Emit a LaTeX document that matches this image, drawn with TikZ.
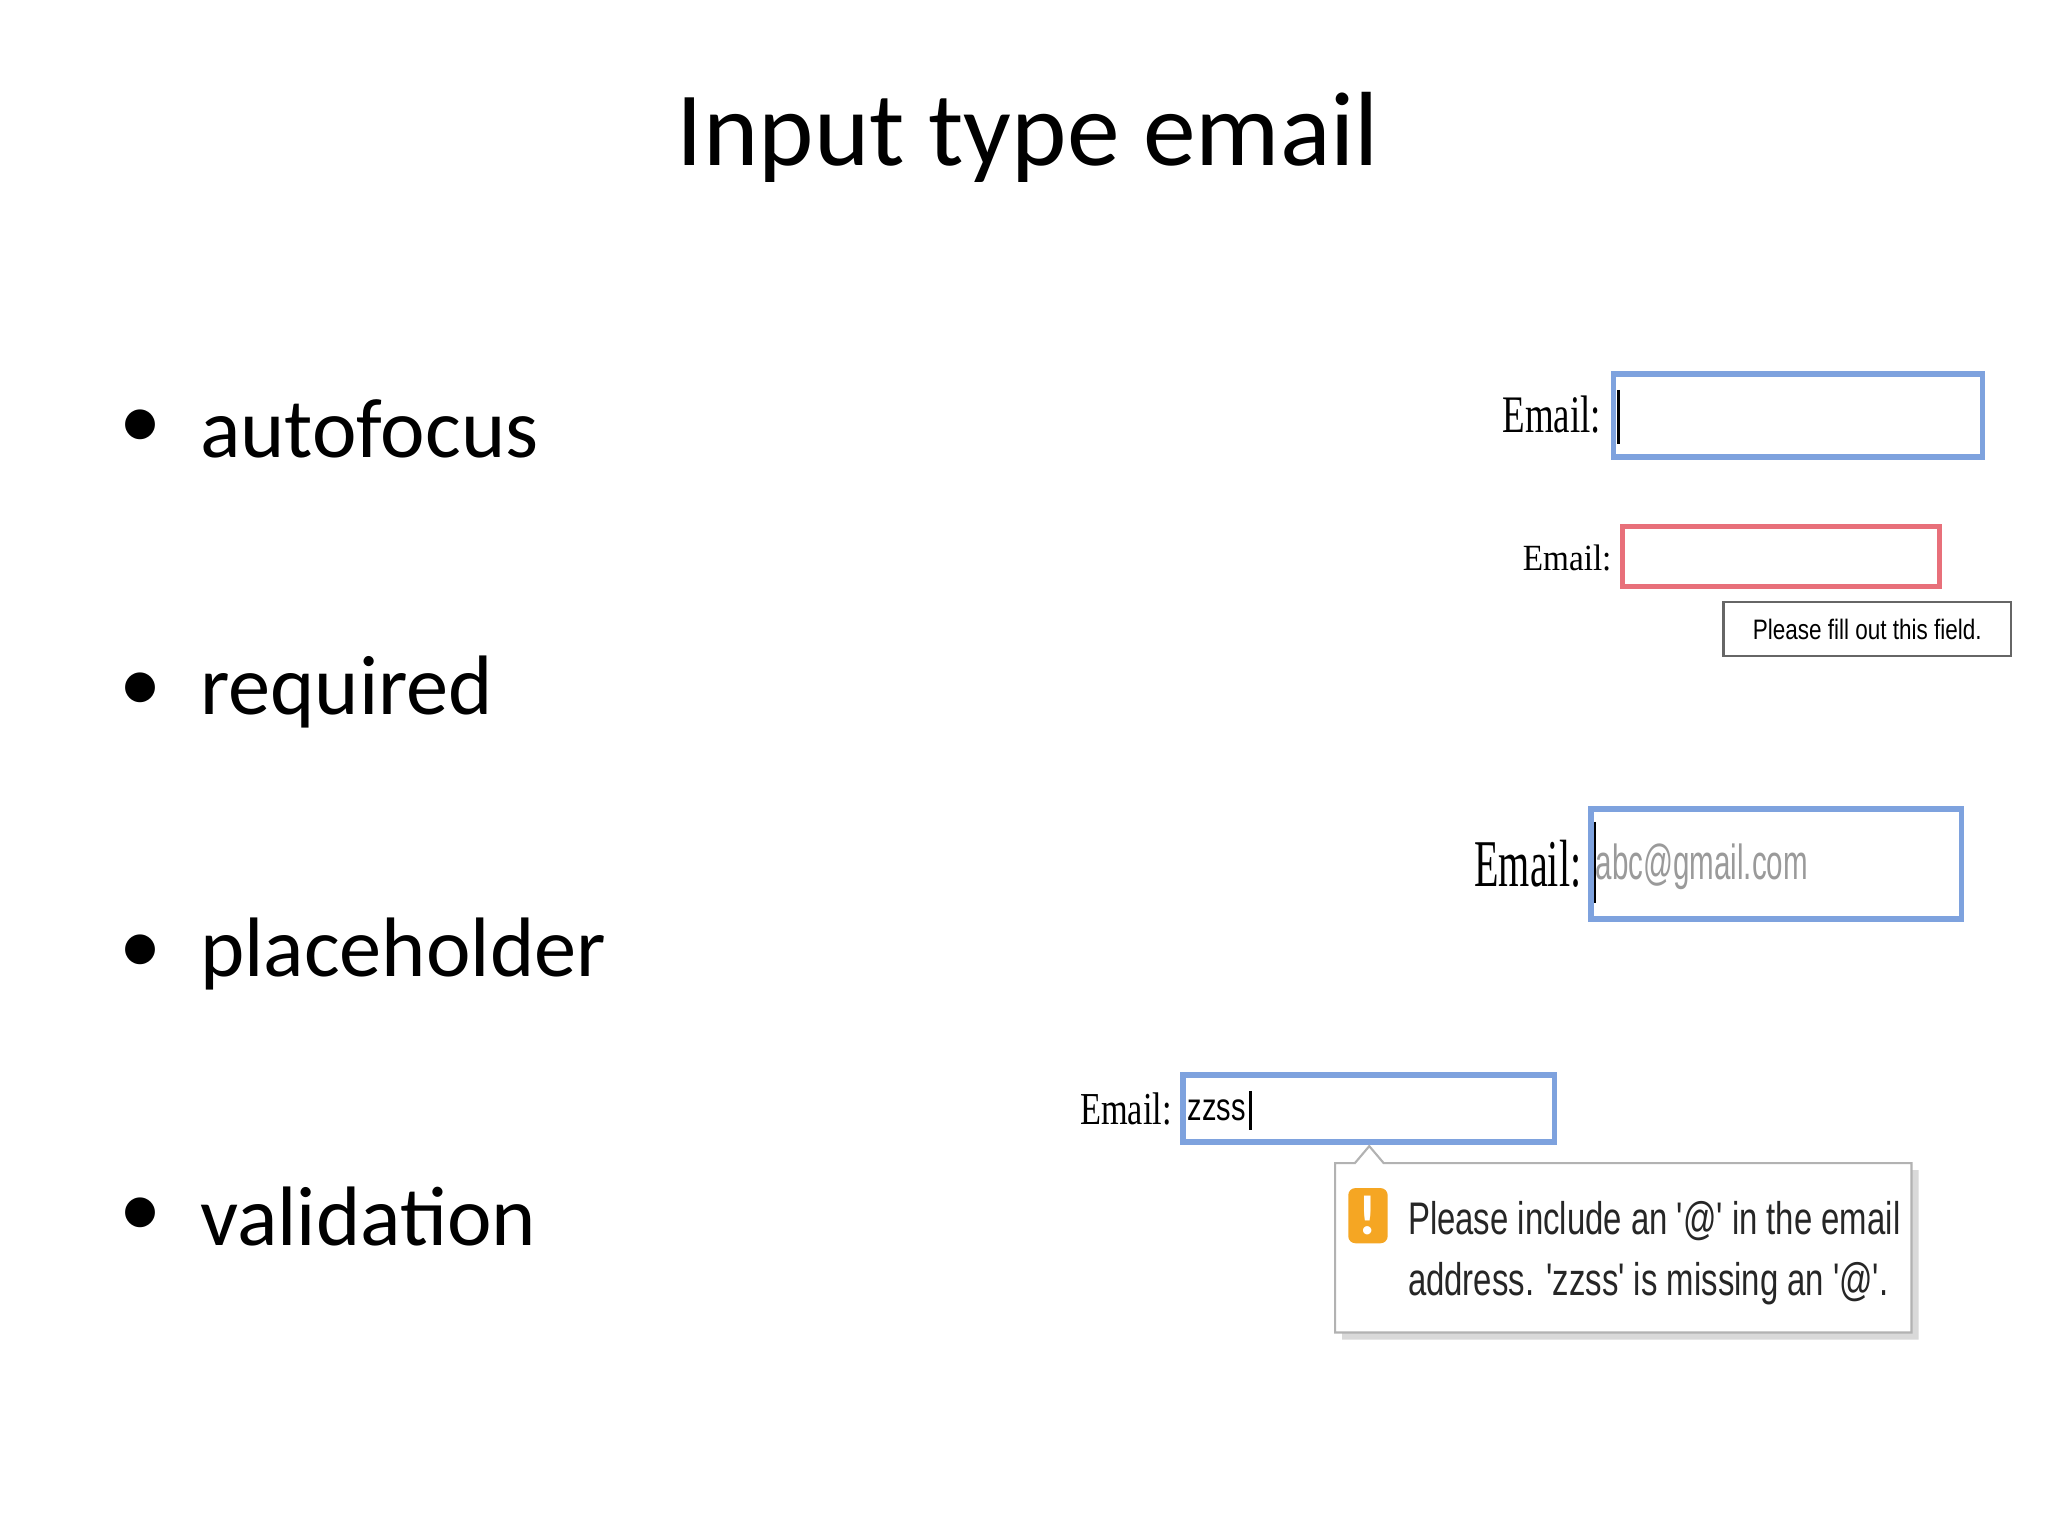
\documentclass[tikz,border=0pt]{standalone}
\usepackage{fontspec}
\setmainfont{Carlito}
\newfontfamily\tms{Liberation Serif}
\newfontfamily\ui{Liberation Sans}
\usetikzlibrary{shadows}
\definecolor{fb}{HTML}{7EA2DE}
\definecolor{fr}{HTML}{E8707A}
\definecolor{ph}{HTML}{9A9A9A}
\definecolor{warn}{HTML}{F5A623}
\begin{document}
\begin{tikzpicture}[x=0.01313cm,y=-0.01313cm,
  bul/.style={anchor=west,font=\fontsize{24}{28}\selectfont},
  lab/.style={anchor=east,inner sep=0pt},
  fbox/.style={draw=fb,line width=1.6pt},
  rbox/.style={draw=fr,line width=1.4pt}]
\useasboundingbox (0,0) rectangle (1560,1170);
\node (title) at (783,105) {\fontsize{30}{34}\selectfont Input type email};
\foreach \y/\t/\n in {327/autofocus/a,527/required/b,727/placeholder/c,927/validation/d}{
  \node (dot\n) at (107,\y) {\fontsize{24}{28}\selectfont •};
  \node[bul] (b\n) at (143,\y) {\t};
}
% autofocus
\draw[fbox] (1229,285) rectangle (1510,348);
\coordinate (c1a) at (1233,297); \coordinate (c1b) at (1233,338);
\draw[line width=0.8pt] (c1a) -- (c1b);
\node[lab] (l1) at (1220,316) {\tms\scalebox{0.7}[1]{\fontsize{15}{16}\selectfont Email:}};
% required
\draw[rbox] (1236,401) rectangle (1477,447);
\node[lab] (l2) at (1228,425) {\tms\scalebox{0.9}[1]{\fontsize{10.5}{12}\selectfont Email:}};
\node[draw=black!60,line width=0.6pt,anchor=north west,minimum width=219*0.01313cm,minimum height=41*0.01313cm,inner sep=0pt] (tip) at (1312,458) {\ui\scalebox{0.8}[1]{\fontsize{8}{9}\selectfont Please fill out this field.}};
% placeholder
\draw[fbox] (1212,616) rectangle (1494,700);
\coordinate (c3a) at (1215,626); \coordinate (c3b) at (1215,688);
\draw[line width=0.8pt] (c3a) -- (c3b);
\node[anchor=west,inner sep=0pt,text=ph] (ph) at (1215,660) {\ui\scalebox{0.6}[1]{\fontsize{14}{16}\selectfont abc@gmail.com}};
\node[lab] (l3) at (1205,658) {\tms\scalebox{0.6}[1]{\fontsize{19}{20}\selectfont Email:}};
% validation
\draw[fbox] (901,819) rectangle (1184,870);
\node[anchor=west,inner sep=0pt] (zz) at (904,846) {\ui\scalebox{0.75}[1]{\fontsize{11}{12}\selectfont zzss}};
\draw[line width=0.8pt] (zz.east)++(3,-15) -- ++(0,30);
\node[lab] (l4) at (893,845) {\tms\scalebox{0.75}[1]{\fontsize{13}{14}\selectfont Email:}};
\draw[draw=black!30,fill=white,line width=0.6pt,drop shadow={opacity=0.3,shadow xshift=2pt,shadow yshift=-2pt}]
  (1017,886) -- (1032,886) -- (1043,873) -- (1054,886) -- (1456,886) -- (1456,1015) -- (1017,1015) -- cycle;
\node[fill=warn,rounded corners=2pt,minimum width=30*0.01313cm,minimum height=42*0.01313cm,inner sep=0pt,text=white,font=\bfseries\fontsize{16}{16}\selectfont] (ic) at (1042,926) {!};
\node[anchor=west,inner sep=0pt,text=black!85] (m1) at (1072,930) {\ui\scalebox{0.72}[1]{\fontsize{13}{15}\selectfont Please include an '@' in the email}};
\node[anchor=west,inner sep=0pt,text=black!85] (m2) at (1072,978) {\ui\scalebox{0.72}[1]{\fontsize{13}{15}\selectfont address. 'zzss' is missing an '@'.}};
\end{tikzpicture}
\end{document}
